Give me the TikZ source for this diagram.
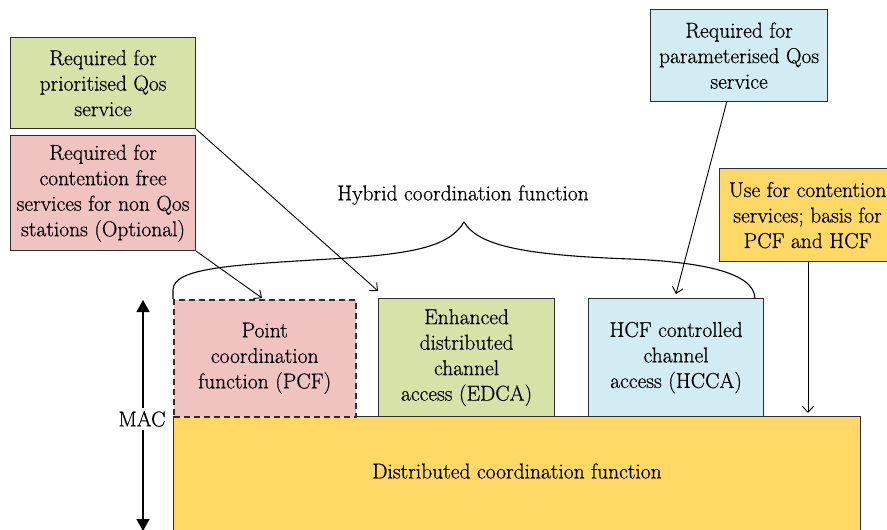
\documentclass[tikz,border=0pt]{standalone}
\usepackage{fontspec}
\newfontfamily\figserif{Latin Modern Roman}[FakeBold=0.6]
\usetikzlibrary{arrows.meta}

\definecolor{greenF}{RGB}{215,226,168}
\definecolor{pinkF}{RGB}{240,195,192}
\definecolor{blueF}{RGB}{210,236,244}
\definecolor{yellowF}{RGB}{255,217,102}
\definecolor{edge}{RGB}{45,45,45}

\tikzset{
  txt/.style={font=\figserif\fontsize{21.5}{25.5}\selectfont},
  box/.style={draw=edge, line width=1.2pt, inner sep=0pt, align=center,
              anchor=north west, txt},
  lbl/.style={inner sep=0pt, align=center, txt},
  link/.style={draw=black, line width=0.9pt, -{Straight Barb[length=6pt,width=11pt]}},
  bracecurve/.style={draw=black, line width=1.1pt},
  macarrow/.style={draw=black, line width=1.3pt, -{Triangle[length=12pt,width=13pt]}}
}

\begin{document}
\begin{tikzpicture}[x=1pt, y=-1pt]
\useasboundingbox (0,0) rectangle (887,530);
\clip (0,0) rectangle (887,530);

% requirement boxes
\node[box, fill=greenF, minimum width=185pt, minimum height=91pt] (reqG) at (10,37)
  {Required for\\prioritised Qos\\service};
\node[box, fill=pinkF, minimum width=185pt, minimum height=115pt] (reqP) at (10,135)
  {Required for\\contention free\\services for non Qos\\stations (Optional)};
\node[box, fill=blueF, minimum width=177pt, minimum height=92pt] (reqB) at (650,9)
  {Required for\\parameterised Qos\\service};
\node[box, fill=yellowF, minimum width=176pt, minimum height=93pt] (reqY) at (719,168)
  {Use for contention\\services; basis for\\PCF and HCF};

% MAC layer
\node[box, fill=yellowF, minimum width=687pt, minimum height=160pt] (dcf) at (173,416) {};
\node[lbl] (dcftext) at (517,471) {Distributed coordination function};
\node[box, fill=pinkF, line width=1.5pt, dash pattern=on 6pt off 4pt, minimum width=182pt, minimum height=117pt] (pcf) at (173,299)
  {Point\\coordination\\function (PCF)};
\node[box, fill=greenF, minimum width=176pt, minimum height=118pt] (edca) at (378,298)
  {Enhanced\\distributed\\channel\\access (EDCA)};
\node[box, fill=blueF, minimum width=175pt, minimum height=118pt] (hcca) at (588,298)
  {HCF controlled\\channel\\access (HCCA)};

% hybrid coordination function brace
\node[lbl] (hcf) at (463,195) {Hybrid coordination function};
\coordinate (brL) at (173,299);
\coordinate (brTip) at (464,222);
\coordinate (brR) at (755,299);
\path[bracecurve] (brL) -- (173,290)
  .. controls (173,268) and (230,265) .. (330,259)
  .. controls (420,254) and (450,245) .. (brTip)
  .. controls (478,245) and (520,255) .. (630,259)
  .. controls (700,262) and (755,272) .. (brR);

% connectors from the requirement boxes
\coordinate (tipG) at (378,291);
\coordinate (tipP) at (262,298);
\coordinate (tipB) at (676,294);
\coordinate (srcB) at (727,101);
\coordinate (tipY) at (808,413);
\draw[link] (reqG.south east) -- (tipG);
\draw[link] (reqP.south east) -- (tipP);
\draw[link] (srcB) -- (tipB);
\draw[link] (reqY.south -| tipY) -- (tipY);

% MAC extent arrow
\node[lbl, inner sep=3pt] (mac) at (142,419) {MAC};
\coordinate (macTop) at (143,300);
\coordinate (macBot) at (143,531);
\draw[macarrow] (mac.north -| macTop) -- (macTop);
\draw[macarrow] (mac.south -| macBot) -- (macBot);
\end{tikzpicture}
\end{document}
